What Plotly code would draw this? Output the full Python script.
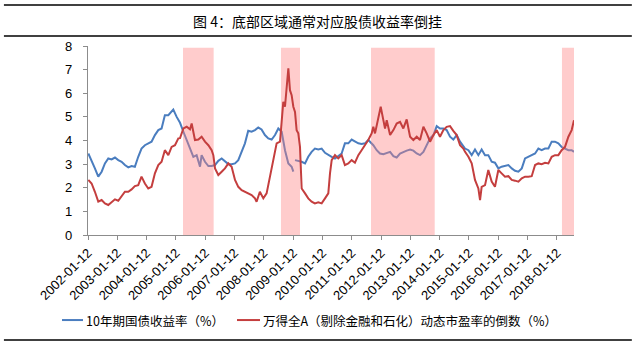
import plotly.graph_objects as go

# 10-year government bond yield (%)
bond_dates = [
    "2002-01-16", "2002-02-26", "2002-04-08", "2002-05-20", "2002-07-01", "2002-08-11",
    "2002-09-22", "2002-11-02", "2002-12-14", "2003-01-24", "2003-03-07", "2003-04-17",
    "2003-05-29", "2003-07-09", "2003-08-19", "2003-09-30", "2003-11-10", "2003-12-22",
    "2004-02-02", "2004-03-14", "2004-04-25", "2004-06-06", "2004-07-17", "2004-08-27",
    "2004-10-09", "2004-11-19", "2004-12-10", "2005-01-21", "2005-03-04", "2005-04-15",
    "2005-05-26", "2005-07-06", "2005-08-17", "2005-09-27", "2005-11-08", "2005-11-28",
    "2006-01-09", "2006-02-20", "2006-04-02", "2006-05-14", "2006-06-24", "2006-08-05",
    "2006-09-15", "2006-10-27", "2006-12-07", "2007-01-18", "2007-02-28", "2007-04-11",
    "2007-05-22", "2007-07-02", "2007-08-13", "2007-09-24", "2007-11-04", "2007-12-15",
    "2008-01-26", "2008-03-08", "2008-04-19", "2008-05-31", "2008-07-11", "2008-08-22",
    "2008-10-02", "2008-11-13", "2008-12-24", "2009-01-14", "2009-01-25", "2009-02-04",
    "2009-03-17", "2009-04-28", "2009-06-09", "2009-07-19", "2009-08-30", "2009-10-10",
    "2009-11-21", "2010-01-02", "2010-02-13", "2010-03-26", "2010-05-07", "2010-06-17",
    "2010-07-28", "2010-09-08", "2010-10-19", "2010-11-30", "2011-01-11", "2011-02-21",
    "2011-04-04", "2011-05-15", "2011-06-26", "2011-08-06", "2011-10-08", "2011-11-19",
    "2011-12-30", "2012-02-10", "2012-03-23", "2012-05-04", "2012-06-14", "2012-07-25",
    "2012-09-05", "2012-10-16", "2012-11-27", "2013-01-08", "2013-02-18", "2013-04-01",
    "2013-05-12", "2013-06-23", "2013-08-03", "2013-09-14", "2013-10-26", "2013-12-06",
    "2014-01-16", "2014-02-27", "2014-04-09", "2014-05-21", "2014-07-01", "2014-08-12",
    "2014-09-23", "2014-11-03", "2014-11-24", "2015-01-05", "2015-02-15", "2015-03-28",
    "2015-05-09", "2015-06-19", "2015-07-31", "2015-09-10", "2015-10-22", "2015-12-02",
    "2016-01-13", "2016-02-23", "2016-04-05", "2016-05-17", "2016-06-28", "2016-08-08",
    "2016-09-19", "2016-10-31", "2016-12-11", "2017-01-21", "2017-03-04", "2017-04-15",
    "2017-05-26", "2017-07-06", "2017-08-17", "2017-09-28", "2017-11-08", "2017-12-19",
    "2018-01-30", "2018-03-12", "2018-04-23", "2018-06-04", "2018-07-15", "2018-08-13",
]
bond_yield = [
    3.45, 3.17, 2.82, 2.47, 2.68, 3.03,
    3.24, 3.20, 3.28, 3.17, 3.10, 2.96,
    2.86, 2.92, 2.89, 3.31, 3.66, 3.80,
    3.88, 3.95, 4.23, 4.44, 4.51, 5.07,
    5.07, 5.21, 5.31, 5.00, 4.75, 4.37,
    4.02, 3.73, 3.31, 3.38, 2.89, 3.38,
    3.10, 2.92, 2.92, 2.96, 3.14, 3.24,
    3.14, 3.00, 3.00, 3.03, 3.17, 3.52,
    3.88, 4.41, 4.37, 4.44, 4.55, 4.47,
    4.23, 4.09, 4.04, 4.23, 4.51, 4.37,
    3.59, 3.03, 2.89, 2.68, None, 3.17,
    3.14, 3.10, 3.03, 3.31, 3.52, 3.66,
    3.62, 3.66, 3.48, 3.38, 3.31, 3.24,
    3.34, 3.45, 3.88, 3.88, 4.04, 3.95,
    3.88, 3.85, 3.88, 4.02, 3.80, 3.59,
    3.45, 3.42, 3.48, 3.52, 3.34, 3.28,
    3.45, 3.52, 3.57, 3.62, 3.57, 3.45,
    3.38, 3.52, 3.80, 4.09, 4.23, 4.61,
    4.51, 4.51, 4.44, 4.16, 4.04, 4.23,
    3.95, 3.73, 3.66, 3.59, 3.38, 3.62,
    3.38, 3.62, 3.38, 3.38, 3.10, 3.06,
    2.82, 2.89, 2.92, 2.96, 2.82, 2.72,
    2.68, 2.82, 3.24, 3.31, 3.38, 3.45,
    3.66, 3.59, 3.66, 3.66, 3.95, 3.95,
    3.88, 3.73, 3.66, 3.59, 3.59, 3.52,
]

# Inverse of the Wind All-A (ex financials & petrochemicals) dynamic P/E (%)
ep_dates = [
    "2002-01-16", "2002-02-26", "2002-04-08", "2002-05-20", "2002-07-01", "2002-08-11",
    "2002-09-22", "2002-11-02", "2002-12-14", "2003-01-24", "2003-03-07", "2003-04-17",
    "2003-05-29", "2003-07-09", "2003-08-19", "2003-09-30", "2003-11-10", "2003-12-22",
    "2004-02-02", "2004-03-14", "2004-04-25", "2004-06-06", "2004-07-17", "2004-08-27",
    "2004-10-09", "2004-11-19", "2004-12-31", "2005-02-11", "2005-03-04", "2005-04-15",
    "2005-05-26", "2005-07-06", "2005-07-27", "2005-09-06", "2005-10-18", "2005-11-28",
    "2006-01-09", "2006-02-20", "2006-04-02", "2006-04-23", "2006-05-14", "2006-06-24",
    "2006-08-05", "2006-09-15", "2006-10-27", "2006-12-07", "2007-01-18", "2007-02-28",
    "2007-04-11", "2007-05-22", "2007-07-02", "2007-08-13", "2007-09-24", "2007-10-14",
    "2007-11-24", "2008-01-06", "2008-02-16", "2008-03-29", "2008-05-10", "2008-06-20",
    "2008-08-01", "2008-08-22", "2008-09-11", "2008-10-02", "2008-10-23", "2008-11-13",
    "2008-12-03", "2008-12-24", "2009-01-14", "2009-02-04", "2009-02-24", "2009-03-17",
    "2009-04-07", "2009-04-28", "2009-06-09", "2009-07-19", "2009-08-30", "2009-10-10",
    "2009-11-21", "2010-01-02", "2010-02-13", "2010-03-26", "2010-04-16", "2010-05-07",
    "2010-06-17", "2010-07-28", "2010-09-08", "2010-10-19", "2010-11-30", "2011-01-11",
    "2011-02-21", "2011-04-04", "2011-05-15", "2011-06-26", "2011-08-06", "2011-09-17",
    "2011-10-08", "2011-10-29", "2011-12-09", "2012-01-08", "2012-02-10", "2012-03-02",
    "2012-03-23", "2012-05-04", "2012-06-14", "2012-07-25", "2012-09-05", "2012-10-16",
    "2012-11-27", "2013-01-08", "2013-02-18", "2013-04-01", "2013-05-12", "2013-06-23",
    "2013-08-03", "2013-09-14", "2013-10-26", "2013-12-06", "2014-01-16", "2014-02-27",
    "2014-04-09", "2014-05-21", "2014-07-01", "2014-08-12", "2014-09-23", "2014-11-03",
    "2014-11-24", "2015-01-05", "2015-02-15", "2015-03-28", "2015-05-09", "2015-05-30",
    "2015-06-19", "2015-07-31", "2015-09-10", "2015-10-22", "2015-12-02", "2016-01-13",
    "2016-02-23", "2016-04-05", "2016-05-17", "2016-06-28", "2016-08-08", "2016-09-19",
    "2016-10-31", "2016-12-11", "2017-01-21", "2017-03-04", "2017-04-15", "2017-05-26",
    "2017-07-06", "2017-08-17", "2017-09-28", "2017-11-08", "2017-12-19", "2018-01-30",
    "2018-03-12", "2018-04-23", "2018-06-04", "2018-07-15", "2018-08-13",
]
earnings_yield = [
    2.33, 2.18, 1.83, 1.41, 1.48, 1.34,
    1.27, 1.41, 1.51, 1.45, 1.62, 1.83,
    1.83, 1.93, 2.07, 2.11, 2.47, 2.18,
    1.97, 2.04, 2.61, 2.96, 3.10, 3.59,
    3.38, 3.73, 3.80, 4.09, 4.10, 4.51,
    4.58, 4.47, 4.72, 4.02, 4.04, 4.16,
    3.95, 3.80, 3.59, 3.38, 2.82, 2.54,
    2.68, 2.82, 3.03, 2.89, 2.33, 2.04,
    1.90, 1.83, 1.76, 1.69, 1.55, 1.41,
    1.83, 1.55, 1.76, 2.47, 3.31, 3.88,
    3.95, 4.86, 5.64, 5.43, 6.27, 7.05,
    6.13, 5.92, 5.43, 5.21, 4.44, 4.30,
    3.73, 1.97, 1.76, 1.55, 1.41, 1.34,
    1.38, 1.34, 1.55, 1.76, 2.61, 3.17,
    3.38, 3.24, 3.38, 2.96, 3.03, 3.17,
    3.06, 3.38, 3.59, 3.80, 4.02, 4.30,
    4.58, 4.30, 4.93, 5.43, 4.86, 4.51,
    4.86, 4.23, 4.44, 4.72, 4.79, 4.51,
    4.89, 4.16, 4.02, 4.16, 4.02, 4.58,
    4.30, 3.95, 4.23, 4.44, 4.16, 4.44,
    4.58, 4.61, 4.41, 4.23, 3.80, 3.66,
    3.52, 3.31, 3.03, 2.33, 1.97, 1.48,
    2.04, 2.11, 2.75, 2.26, 2.04, 2.75,
    2.61, 2.47, 2.49, 2.33, 2.30, 2.26,
    2.40, 2.47, 2.47, 2.49, 2.96, 3.03,
    3.00, 3.06, 3.03, 3.31, 3.38, 3.38,
    3.59, 3.73, 4.16, 4.44, 4.86,
]

# Periods where the equity/bond yield relationship is inverted (bottom zones)
zone_starts = ["2005-04-10", "2008-08-13", "2011-09-09", "2018-03-16"]
zone_ends = ["2006-04-27", "2009-04-07", "2013-11-11", "2018-08-13"]
zone_low, zone_high = -0.25, 7.93

tick_dates = [f"{y}-01-12" for y in range(2002, 2019)]

series_names = ["10年期国债收益率（%）", "万得全A（剔除金融和石化）动态市盈率的倒数（%）"]

BLUE = "#4A7DBF"
RED = "#C43E3E"
AXIS = "#8C8C8C"
CJK = "Noto Sans CJK SC"

# Build the shaded rectangles as one filled trace (segments separated by gaps)
zone_x, zone_y = [], []
for s, e in zip(zone_starts, zone_ends):
    zone_x += [s, e, e, s, s, None]
    zone_y += [zone_low, zone_low, zone_high, zone_high, zone_low, None]

fig = go.Figure()
fig.add_trace(go.Scatter(
    x=bond_dates, y=bond_yield, mode="lines", name=series_names[0],
    line=dict(color=BLUE, width=2), connectgaps=False, showlegend=False,
))
fig.add_trace(go.Scatter(
    x=zone_x, y=zone_y, mode="none", fill="toself",
    fillcolor="rgba(255,128,128,0.4)", showlegend=False, hoverinfo="skip",
))
fig.add_trace(go.Scatter(
    x=ep_dates, y=earnings_yield, mode="lines", name=series_names[1],
    line=dict(color=RED, width=2), showlegend=False,
))

fig.update_layout(
    width=636, height=346,
    margin=dict(l=88, r=62, t=46, b=111),
    plot_bgcolor="white", paper_bgcolor="white",
    font=dict(family="Liberation Sans, Arial, sans-serif", size=12, color="black"),
    showlegend=False,
    xaxis=dict(
        type="date", range=["2002-01-12", "2018-08-13"],
        tickvals=tick_dates, ticktext=tick_dates, tickangle=-45,
        showgrid=False, zeroline=False, showline=True, linecolor=AXIS, linewidth=1.2,
        ticks="outside", ticklen=4, tickcolor=AXIS,
        tickfont=dict(size=13, color="black"), automargin=False,
    ),
    yaxis=dict(
        range=[0, 8], dtick=1, tick0=0,
        showgrid=False, zeroline=False, showline=True, linecolor=AXIS, linewidth=1.2,
        ticks="outside", ticklen=4, tickcolor=AXIS, ticklabelstandoff=8,
        tickfont=dict(size=13, color="black"), automargin=False,
    ),
)

# Legend row below the axis: a short line sample followed by its label
legend_y = -0.45
legend_items = [
    (series_names[0], BLUE, -0.0535, -0.0103),
    (series_names[1], RED, 0.3066, 0.3539),
]
for name, color, xs, xe in legend_items:
    fig.add_shape(
        type="line", xref="paper", yref="paper", x0=xs, x1=xe, y0=legend_y, y1=legend_y,
        line=dict(color=color, width=2),
    )
    fig.add_annotation(
        text=name, xref="paper", yref="paper", x=xe + 0.003, y=legend_y,
        xanchor="left", yanchor="middle", showarrow=False,
        font=dict(family=CJK, size=12.5, color="black"),
    )

# Title band with rules above and below
fig.add_annotation(
    text="图 4：底部区域通常对应股债收益率倒挂", xref="paper", yref="paper",
    x=0.473, y=1.132, xanchor="center", yanchor="middle", showarrow=False,
    font=dict(family=CJK, size=14, color="black"),
)
for yy in (1.217, 1.053, -0.556):
    fig.add_shape(
        type="line", xref="paper", yref="paper", x0=-0.173, x1=1.119, y0=yy, y1=yy,
        line=dict(color="black", width=1.5),
    )

fig.write_html("out.html")
